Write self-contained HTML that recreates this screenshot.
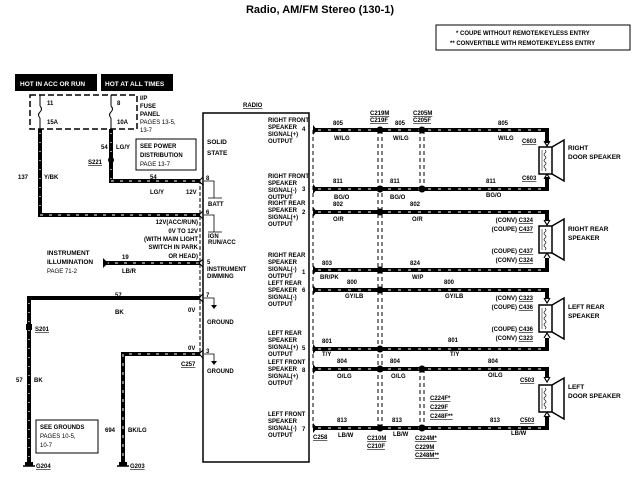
<!DOCTYPE html>
<html><head><meta charset="utf-8"><style>
html,body{margin:0;padding:0;background:#fff}
svg{display:block}
text{font-family:"Liberation Sans",sans-serif;font-weight:bold;font-size:6px;fill:#000}
.u{text-decoration:underline}
</style></head><body>
<svg width="640" height="480" viewBox="0 0 640 480" xmlns="http://www.w3.org/2000/svg">
<defs>
<g id="spk"><rect x="539" y="0" width="13" height="27" fill="#fff" stroke="#000" stroke-width="1.5"/><path d="M552 0 L564 -7 L564 34 L552 27" fill="none" stroke="#000" stroke-width="1.5"/><path d="M545 3 q2 2 0 3 q-2 2 0 3 q2 2 0 3 q-2 2 0 3 q2 2 0 3 q-2 2 0 3 q2 2 0 3" fill="none" stroke="#000" stroke-width="0.6"/><line x1="542" y1="3" x2="542" y2="24" stroke="#000" stroke-width="0.5"/></g>
</defs>
<text x="320" y="13" text-anchor="middle" style="font-size:11px">Radio, AM/FM Stereo (130-1)</text>
<rect x="436" y="25" width="194" height="25" fill="none" stroke="#000"/>
<text x="456" y="35">*  COUPE WITHOUT REMOTE/KEYLESS ENTRY</text>
<text x="450" y="45">**  CONVERTIBLE WITH REMOTE/KEYLESS ENTRY</text>

<rect x="15" y="74" width="82" height="17" fill="#000"/>
<text x="20" y="86" style="fill:#fff;font-size:6.5px">HOT IN ACC OR RUN</text>
<rect x="101" y="74" width="72" height="17" fill="#000"/>
<text x="105" y="86" style="fill:#fff;font-size:6.5px">HOT AT ALL TIMES</text>
<rect x="30" y="95" width="107" height="34" fill="none" stroke="#000" stroke-width="1.5" stroke-dasharray="6,3"/>
<g stroke="#000" stroke-width="1" fill="none">
<line x1="40" y1="95" x2="40" y2="106"/><path d="M40 106 q3 3 0 6 q-3 3 0 6"/><line x1="40" y1="118" x2="40" y2="129"/>
<line x1="111" y1="95" x2="111" y2="106"/><path d="M111 106 q3 3 0 6 q-3 3 0 6"/><line x1="111" y1="118" x2="111" y2="129"/>
</g>
<text x="47" y="105">11</text><text x="47" y="124">15A</text>
<text x="117" y="105">8</text><text x="117" y="124">10A</text>
<text x="140" y="100">I/P</text><text x="140" y="108">FUSE</text><text x="140" y="116">PANEL</text>
<text x="140" y="124" style="font-weight:normal">PAGES 13-5,</text><text x="140" y="132" style="font-weight:normal">13-7</text>
<rect x="136" y="139" width="60" height="31" fill="none" stroke="#000"/>
<text x="140" y="148">SEE POWER</text><text x="140" y="157">DISTRIBUTION</text><text x="140" y="166" style="font-weight:normal">PAGE 13-7</text>

<!-- wires left -->
<g stroke="#000" stroke-width="4" fill="none">
<path d="M111 129 V181 H200"/>
<path d="M40 129 V215 H200"/>
<path d="M103 263 H200"/>
<path d="M29 465 V298 H200"/>
<path d="M123 465 V354 H200"/>
</g>
<g stroke="#fff" stroke-width="1" fill="none" stroke-dasharray="3,6">
<path d="M111 181 H200"/><path d="M40 215 H200"/><path d="M106 263 H200"/><path d="M123 465 V354 H200"/>
</g>
<g stroke="#fff" stroke-width="1.2" stroke-dasharray="1,8">
<line x1="111" y1="133" x2="111" y2="180"/><line x1="40" y1="133" x2="40" y2="213"/><line x1="29" y1="303" x2="29" y2="460"/>
</g>
<circle cx="111" cy="160" r="3"/>
<rect x="26" y="324" width="6" height="6"/>
<path d="M103 258 L108 263 L103 268 Z"/>
<text x="101" y="149">54</text><text x="116" y="149">LG/Y</text>
<text x="88" y="164" class="u">S221</text>
<text x="150" y="179">54</text><text x="150" y="194">LG/Y</text><text x="186" y="194">12V</text>
<text x="18" y="179">137</text><text x="44" y="179">Y/BK</text>
<text x="198" y="224" text-anchor="end">12V(ACC/RUN)</text>
<text x="198" y="233" text-anchor="end">0V TO 12V</text>
<text x="198" y="241" text-anchor="end">(WITH MAIN LIGHT</text>
<text x="198" y="249" text-anchor="end">SWITCH IN PARK</text>
<text x="198" y="258" text-anchor="end">OR HEAD)</text>
<text x="47" y="255" style="font-size:6.5px">INSTRUMENT</text><text x="47" y="264" style="font-size:6.5px">ILLUMINATION</text><text x="47" y="273" style="font-weight:normal">PAGE 71-2</text>
<text x="122" y="259">19</text><text x="122" y="273">LB/R</text>
<text x="115" y="297">57</text><text x="115" y="314">BK</text><text x="188" y="312">0V</text>
<text x="35" y="331" class="u">S201</text>
<text x="16" y="382">57</text><text x="34" y="382">BK</text>
<rect x="36" y="420" width="62" height="33" fill="none" stroke="#000"/>
<text x="40" y="429">SEE GROUNDS</text><text x="40" y="438" style="font-weight:normal">PAGES 10-5,</text><text x="40" y="447" style="font-weight:normal">10-7</text>
<text x="105" y="432">694</text><text x="128" y="432">BK/LG</text>
<text x="188" y="350">0V</text><text x="181" y="366" class="u">C257</text>
<g stroke="#000" stroke-width="1.5"><line x1="23" y1="466" x2="35" y2="466"/><line x1="117" y1="466" x2="129" y2="466"/></g>
<path d="M25 462 h8 v4 h-8z"/><path d="M119 462 h8 v4 h-8z"/>
<text x="36" y="468" class="u">G204</text><text x="130" y="468" class="u">G203</text>
<line x1="200" y1="180" x2="200" y2="356" stroke="#000" stroke-width="1" stroke-dasharray="4,2"/>
<g fill="none" stroke="#000" stroke-width="1"><path d="M203 177 L199 181 L203 185"/><path d="M203 211 L199 215 L203 219"/><path d="M203 259 L199 263 L203 267"/><path d="M203 294 L199 298 L203 302"/><path d="M203 350 L199 354 L203 358"/></g>

<!-- radio box -->
<rect x="203" y="113" width="106" height="349" fill="none" stroke="#000" stroke-width="1.5"/>
<text x="243" y="107" class="u">RADIO</text>
<text x="207" y="144" style="font-size:6.5px">SOLID</text><text x="207" y="155" style="font-size:6.5px">STATE</text>
<g fill="none" stroke="#000" stroke-width="0.8">
<path d="M204 181 H214 V198 M208 198 H222"/><path d="M204 215 H214 V232 M208 232 H222"/>
<path d="M204 298 H214 V305"/><path d="M204 354 H214 V361"/>
</g>
<path d="M211 305 h6 l-3 4z"/><path d="M211 361 h6 l-3 4z"/>
<text x="206" y="180">8</text><text x="208" y="206">BATT</text>
<text x="206" y="214">6</text><text x="208" y="238">IGN</text><text x="208" y="244">RUN/ACC</text>
<text x="207" y="264">5</text><text x="207" y="271">INSTRUMENT</text><text x="207" y="278">DIMMING</text>
<text x="206" y="297">7</text><text x="207" y="324">GROUND</text>
<text x="206" y="353">3</text><text x="207" y="373">GROUND</text>
<g style="font-size:5.5px">
<text x="268" y="122">RIGHT FRONT</text><text x="268" y="129">SPEAKER</text><text x="268" y="136">SIGNAL(+)</text><text x="268" y="143">OUTPUT</text><text x="302" y="131">4</text>
<text x="268" y="178">RIGHT FRONT</text><text x="268" y="185">SPEAKER</text><text x="268" y="192">SIGNAL(-)</text><text x="268" y="199">OUTPUT</text><text x="302" y="191">3</text>
<text x="268" y="205">RIGHT REAR</text><text x="268" y="212">SPEAKER</text><text x="268" y="219">SIGNAL(+)</text><text x="268" y="226">OUTPUT</text><text x="302" y="214">2</text>
<text x="268" y="257">RIGHT REAR</text><text x="268" y="264">SPEAKER</text><text x="268" y="271">SIGNAL(-)</text><text x="268" y="278">OUTPUT</text><text x="302" y="274">1</text>
<text x="268" y="285">LEFT REAR</text><text x="268" y="292">SPEAKER</text><text x="268" y="299">SIGNAL(-)</text><text x="268" y="306">OUTPUT</text><text x="302" y="292">6</text>
<text x="268" y="335">LEFT REAR</text><text x="268" y="342">SPEAKER</text><text x="268" y="349">SIGNAL(+)</text><text x="268" y="356">OUTPUT</text><text x="302" y="350">5</text>
<text x="268" y="364">LEFT FRONT</text><text x="268" y="371">SPEAKER</text><text x="268" y="378">SIGNAL(+)</text><text x="268" y="385">OUTPUT</text><text x="302" y="372">8</text>
<text x="268" y="416">LEFT FRONT</text><text x="268" y="423">SPEAKER</text><text x="268" y="430">SIGNAL(-)</text><text x="268" y="437">OUTPUT</text><text x="302" y="431">7</text>
</g>

<!-- right wires -->
<g stroke="#000" stroke-width="4" fill="none">
<path d="M313 130 H547 V143"/><path d="M313 189 H547 V177"/>
<path d="M313 212 H547 V221"/><path d="M313 270 H547 V258"/>
<path d="M313 290 H547 V299"/><path d="M313 349 H547 V338"/>
<path d="M313 369 H547 V378"/><path d="M313 428 H547 V416"/>
</g>
<g stroke="#fff" stroke-width="1" fill="none" stroke-dasharray="3,7">
<path d="M318 130 H545"/><path d="M318 189 H545"/><path d="M318 212 H545"/><path d="M318 270 H545"/>
<path d="M318 290 H545"/><path d="M318 349 H545"/><path d="M318 369 H545"/><path d="M318 428 H545"/>
</g>
<g stroke="#000" stroke-width="1" stroke-dasharray="4,3">
<line x1="313" y1="130" x2="313" y2="428"/>
<line x1="378" y1="130" x2="378" y2="428"/><line x1="382" y1="130" x2="382" y2="428"/>
<line x1="420" y1="130" x2="420" y2="189"/><line x1="424" y1="130" x2="424" y2="189"/>
<line x1="420" y1="369" x2="420" y2="428"/><line x1="424" y1="369" x2="424" y2="428"/>
</g>
<g fill="#000">
<path d="M313 125 l4 5 l-4 5z"/><path d="M313 184 l4 5 l-4 5z"/><path d="M313 207 l4 5 l-4 5z"/><path d="M313 265 l4 5 l-4 5z"/>
<path d="M313 285 l4 5 l-4 5z"/><path d="M313 344 l4 5 l-4 5z"/><path d="M313 364 l4 5 l-4 5z"/><path d="M313 423 l4 5 l-4 5z"/>
</g>
<g fill="#000">
<circle cx="380" cy="130" r="3.5"/><circle cx="380" cy="189" r="3.5"/><circle cx="380" cy="212" r="3.5"/><circle cx="380" cy="270" r="3.5"/>
<circle cx="380" cy="290" r="3.5"/><circle cx="380" cy="349" r="3.5"/><circle cx="380" cy="369" r="3.5"/><circle cx="380" cy="428" r="3.5"/>
<circle cx="422" cy="130" r="3.5"/><circle cx="422" cy="189" r="3.5"/><circle cx="422" cy="369" r="3.5"/><circle cx="422" cy="428" r="3.5"/>
</g>
<text x="370" y="115" class="u">C219M</text><text x="370" y="122" class="u">C219F</text>
<text x="413" y="115" class="u">C205M</text><text x="413" y="122" class="u">C205F</text>
<text x="333" y="125">805</text><text x="334" y="140">W/LG</text><text x="395" y="125">805</text><text x="393" y="140">W/LG</text>
<text x="498" y="125">805</text><text x="498" y="140">W/LG</text><text x="522" y="143" class="u">C603</text>
<text x="333" y="183">811</text><text x="334" y="199">BG/O</text><text x="390" y="183">811</text><text x="390" y="199">BG/O</text>
<text x="486" y="183">811</text><text x="486" y="197">BG/O</text><text x="522" y="180" class="u">C603</text>
<text x="333" y="206">802</text><text x="333" y="221">O/R</text><text x="410" y="206">802</text><text x="412" y="221">O/R</text>
<text x="322" y="265">803</text><text x="320" y="279">BR/PK</text><text x="410" y="265">824</text><text x="412" y="279">W/P</text>
<text x="347" y="284">800</text><text x="345" y="298">GY/LB</text><text x="444" y="284">800</text><text x="445" y="298">GY/LB</text>
<text x="322" y="343">801</text><text x="322" y="356">T/Y</text><text x="448" y="342">801</text><text x="450" y="356">T/Y</text>
<text x="337" y="363">804</text><text x="337" y="378">O/LG</text><text x="390" y="363">804</text><text x="391" y="378">O/LG</text>
<text x="488" y="363">804</text><text x="488" y="377">O/LG</text><text x="520" y="382" class="u">C503</text>
<text x="337" y="422">813</text><text x="338" y="437">LB/W</text><text x="392" y="422">813</text><text x="393" y="436">LB/W</text>
<text x="490" y="422">813</text><text x="520" y="422" class="u">C503</text><text x="511" y="435">LB/W</text>
<text x="313" y="439" class="u">C258</text>
<text x="367" y="440" class="u">C210M</text><text x="367" y="448" class="u">C210F</text>
<text x="430" y="400" class="u">C224F*</text><text x="430" y="409" class="u">C229F</text><text x="430" y="418" class="u">C248F**</text>
<text x="415" y="440" class="u">C224M*</text><text x="415" y="449" class="u">C229M</text><text x="415" y="457" class="u">C248M**</text>
<g text-anchor="end">
<text x="533" y="222">(CONV) <tspan class="u">C324</tspan></text><text x="533" y="231">(COUPE) <tspan class="u">C437</tspan></text>
<text x="533" y="253">(COUPE) <tspan class="u">C437</tspan></text><text x="533" y="262">(CONV) <tspan class="u">C324</tspan></text>
<text x="533" y="300">(CONV) <tspan class="u">C323</tspan></text><text x="533" y="309">(COUPE) <tspan class="u">C436</tspan></text>
<text x="533" y="331">(COUPE) <tspan class="u">C436</tspan></text><text x="533" y="340">(CONV) <tspan class="u">C323</tspan></text>
</g>
<!-- speakers -->
<g fill="none" stroke="#000" stroke-width="1.2">
<path d="M544 141 L547 146 L550 141"/><path d="M544 179 L547 174 L550 179"/>
<path d="M544 220 L547 225 L550 220"/><path d="M544 258 L547 253 L550 258"/>
<path d="M544 298 L547 303 L550 298"/><path d="M544 338 L547 333 L550 338"/>
<path d="M544 377 L547 382 L550 377"/><path d="M544 417 L547 412 L550 417"/>
</g>
<use href="#spk" transform="translate(0,147)"/>
<use href="#spk" transform="translate(0,226)"/>
<use href="#spk" transform="translate(0,305)"/>
<use href="#spk" transform="translate(0,385)"/>
<text x="568" y="150" style="font-size:6.5px">RIGHT</text><text x="568" y="159" style="font-size:6.5px">DOOR  SPEAKER</text>
<text x="568" y="231" style="font-size:6.5px">RIGHT REAR</text><text x="568" y="240" style="font-size:6.5px">SPEAKER</text>
<text x="568" y="309" style="font-size:6.5px">LEFT REAR</text><text x="568" y="318" style="font-size:6.5px">SPEAKER</text>
<text x="568" y="389" style="font-size:6.5px">LEFT</text><text x="568" y="398" style="font-size:6.5px">DOOR  SPEAKER</text>
</svg>
</body></html>
